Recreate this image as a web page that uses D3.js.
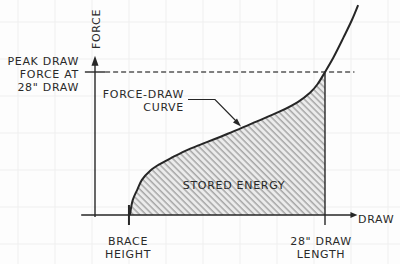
<!DOCTYPE html>
<html>
<head>
<meta charset="utf-8">
<script src="https://cdn.jsdelivr.net/npm/d3@7"></script>
<style>
  html, body { margin: 0; padding: 0; background: #fdfdfd; }
  svg { display: block; }
  text { font-family: "DejaVu Sans", sans-serif; fill: #2a2a2a; letter-spacing: 0.7px; }
</style>
</head>
<body>
<svg id="chart"></svg>
<script>
// force-draw curve (draw in inches, force in lb)
var drawInches = [6.8, 7.1, 7.6, 8.1, 9.0, 10.1, 11.5, 13.0, 14.4, 17.5, 19.9, 23.1, 25.0, 26.4, 27.2, 28.0, 28.9, 30.0, 30.9, 31.6];
var forceLbs   = [0, 5.2, 8.9, 12.3, 15.5, 17.9, 20.3, 22.7, 24.5, 28.5, 31.8, 36.2, 39.4, 42.8, 45.8, 50.0, 55.0, 62.0, 68.0, 73.4];
var braceHeight = 6.8;
var drawLength = 28;
var peakForce = 50;

var peakLabel = ["PEAK DRAW", "FORCE AT", "28\" DRAW"];
var curveLabel = ["FORCE-DRAW", "CURVE"];
var braceLabel = ["BRACE", "HEIGHT"];
var lengthLabel = ["28\" DRAW", "LENGTH"];

var width = 400, height = 264;
var ink = "#262626";

var svg = d3.select("#chart")
	.attr("width", width)
	.attr("height", height);

// set the ranges
var x = d3.scaleLinear().domain([3, 28]).range([95, 325]);
var y = d3.scaleLinear().domain([0, 50]).range([215, 72]);

var data = drawInches.map(function(d, i) { return {draw: d, force: forceLbs[i]}; });

// faint graph paper
var grid = svg.append("g").attr("stroke", "#efefef").attr("stroke-width", 1);
d3.range(18, width, 37).forEach(function(gx) {
	grid.append("line").attr("x1", gx).attr("x2", gx).attr("y1", 0).attr("y2", height);
});
d3.range(22, height, 37).forEach(function(gy) {
	grid.append("line").attr("y1", gy).attr("y2", gy).attr("x1", 0).attr("x2", width);
});

// hatch pattern + clip at full draw
var defs = svg.append("defs");
defs.append("pattern")
	.attr("id", "hatch")
	.attr("patternUnits", "userSpaceOnUse")
	.attr("width", 4.5)
	.attr("height", 4.5)
	.attr("patternTransform", "rotate(-45)")
	.append("line")
	.attr("x1", 1).attr("x2", 1)
	.attr("y1", 0).attr("y2", 4.5)
	.attr("stroke", "#858585")
	.attr("stroke-width", 1);
defs.append("clipPath")
	.attr("id", "stored")
	.append("rect")
	.attr("x", 0).attr("y", 0)
	.attr("width", x(drawLength)).attr("height", height);

var smooth = d3.curveCatmullRom.alpha(0.5);

var area = d3.area()
	.x(function(d) { return x(d.draw); })
	.y0(y(0))
	.y1(function(d) { return y(d.force); })
	.curve(smooth);

var storedArea = svg.append("g").attr("clip-path", "url(#stored)");
storedArea.append("path").datum(data)
	.attr("d", area)
	.attr("fill", "#ebebeb");
storedArea.append("path").datum(data)
	.attr("d", area)
	.attr("fill", "url(#hatch)");

// axes
var axes = svg.append("g").attr("stroke", ink).attr("stroke-width", 1.4).attr("fill", "none");
axes.append("line")
	.attr("x1", x(3)).attr("x2", x(3))
	.attr("y1", y(-0.7)).attr("y2", y(54));
axes.append("line")
	.attr("x1", x(1.5)).attr("x2", x(31.2))
	.attr("y1", y(0)).attr("y2", y(0));
svg.append("path")
	.attr("d", "M" + x(3) + "," + (y(55) - 2) + "l-3.5,10h7z")
	.attr("fill", ink);
svg.append("path")
	.attr("d", "M" + (x(31.2) + 3) + "," + y(0) + "l-7,-3v6z")
	.attr("fill", ink);

// peak tick and dashed line
axes.append("line")
	.attr("x1", x(1.9)).attr("x2", x(4.1))
	.attr("y1", y(peakForce)).attr("y2", y(peakForce));
svg.append("line")
	.attr("x1", x(4.1)).attr("x2", x(31.2))
	.attr("y1", y(peakForce)).attr("y2", y(peakForce))
	.attr("stroke", "#555")
	.attr("stroke-width", 1.3)
	.attr("stroke-dasharray", "5,3");

// draw length line and brace tick
axes.append("line")
	.attr("x1", x(drawLength)).attr("x2", x(drawLength))
	.attr("y1", y(peakForce)).attr("y2", y(-3.5));
axes.append("line")
	.attr("x1", x(braceHeight) - 1).attr("x2", x(braceHeight) - 1)
	.attr("y1", y(3.5)).attr("y2", y(-3.5))
	.attr("stroke-width", 2);

// the curve
var line = d3.line()
	.x(function(d) { return x(d.draw); })
	.y(function(d) { return y(d.force); })
	.curve(smooth);

svg.append("path").datum(data)
	.attr("d", line)
	.attr("fill", "none")
	.attr("stroke", ink)
	.attr("stroke-width", 2);

// leader arrow to curve
svg.append("path")
	.attr("d", "M188,99.5H215L238,123")
	.attr("fill", "none")
	.attr("stroke", ink)
	.attr("stroke-width", 1.2);
svg.append("path")
	.attr("d", "M241,126.5l-8,-4l4,-4z")
	.attr("fill", ink);

// labels
var fs = 11;
svg.append("text")
	.attr("transform", "translate(99.5,29) rotate(-90)")
	.attr("text-anchor", "middle")
	.style("font-size", fs + "px")
	.text("FORCE");

peakLabel.forEach(function(t, i) {
	svg.append("text")
		.attr("x", 79).attr("y", 65 + i * 12.8)
		.attr("text-anchor", "end")
		.style("font-size", fs + "px")
		.text(t);
});
curveLabel.forEach(function(t, i) {
	svg.append("text")
		.attr("x", 184).attr("y", 98 + i * 12.8)
		.attr("text-anchor", "end")
		.style("font-size", fs + "px")
		.text(t);
});
svg.append("text")
	.attr("x", 234).attr("y", 189)
	.attr("text-anchor", "middle")
	.style("font-size", fs + "px")
	.text("STORED ENERGY");
braceLabel.forEach(function(t, i) {
	svg.append("text")
		.attr("x", 128).attr("y", 245 + i * 13)
		.attr("text-anchor", "middle")
		.style("font-size", fs + "px")
		.text(t);
});
lengthLabel.forEach(function(t, i) {
	svg.append("text")
		.attr("x", 321).attr("y", 245 + i * 13)
		.attr("text-anchor", "middle")
		.style("font-size", fs + "px")
		.text(t);
});
svg.append("text")
	.attr("x", 358).attr("y", 223)
	.style("font-size", fs + "px")
	.text("DRAW");
</script>
</body>
</html>
